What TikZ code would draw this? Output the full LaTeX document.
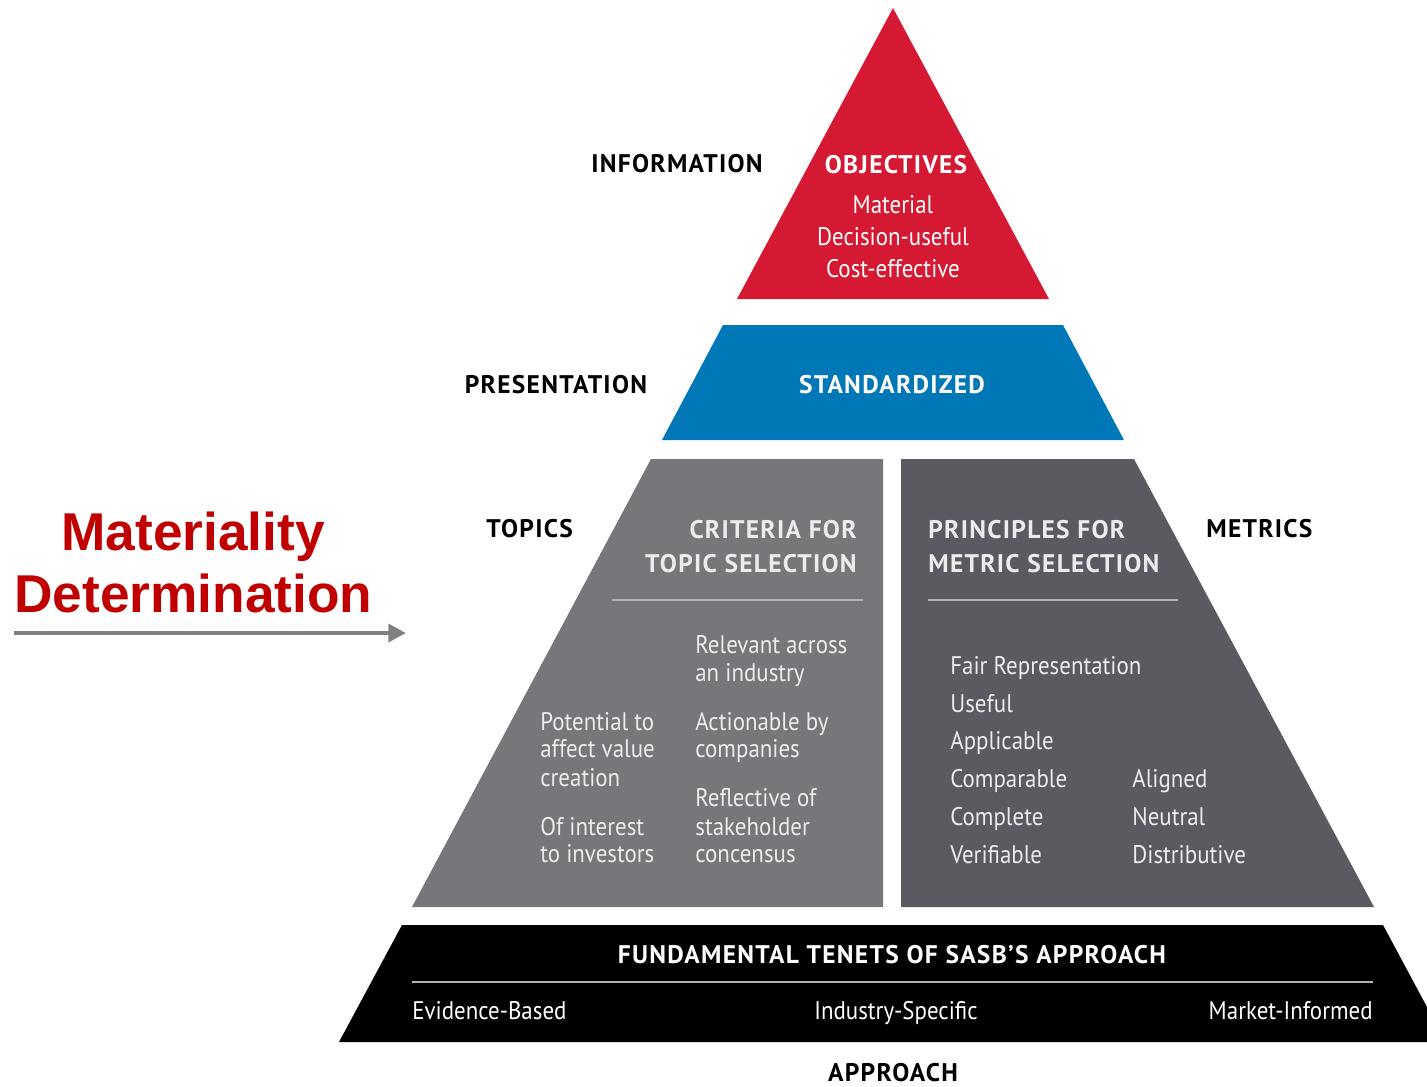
\documentclass[tikz,border=0pt]{standalone}
\usepackage{fontspec}
\setmainfont{PT Sans}
\newfontfamily\fr{PT Sans}[FakeStretch=0.9]
\newfontfamily\frh{PT Sans}[FakeStretch=1.0,LetterSpace=5]
\newfontfamily\arb{Liberation Sans}
\usetikzlibrary{arrows.meta}
\definecolor{sasbred}{RGB}{214,25,50}
\definecolor{sasbblue}{RGB}{0,119,182}
\definecolor{lgray}{RGB}{118,119,123}
\definecolor{dgray}{RGB}{90,91,96}
\definecolor{softwhite}{RGB}{236,236,236}
\definecolor{rulegray}{RGB}{178,178,180}
\definecolor{matred}{RGB}{192,0,0}
\definecolor{arrgray}{RGB}{128,128,128}
\tikzset{
  body/.style={font=\fr\fontsize{14.5}{16}\selectfont, inner sep=0pt, text=softwhite},
  bodyw/.style={body, text=white},
  head/.style={font=\frh\bfseries\fontsize{14.5}{16}\selectfont, inner sep=0pt, text=white},
  headg/.style={head, text=softwhite},
  side/.style={font=\frh\bfseries\fontsize{14.5}{16}\selectfont, inner sep=0pt, text=black},
  matlabel/.style={font=\arb\bfseries\fontsize{30.3}{32}\selectfont, inner sep=0pt, text=matred},
  divider/.style={draw=rulegray, line width=1.2pt},
  arrowline/.style={draw=arrgray, line width=2.8pt, -{Triangle[length=10pt,width=10pt]}},
}
\begin{document}
\begin{tikzpicture}[x=0.02cm,y=-0.02cm]
\useasboundingbox (0,0) rectangle (1427,1086);
% shapes
\fill[sasbred] (893,8) -- (1049,299) -- (737,299) -- cycle;
\fill[sasbblue] (723,325) -- (1063,325) -- (1124,440) -- (662,440) -- cycle;
\fill[lgray] (651,459) -- (883,459) -- (883,907) -- (412,907) -- cycle;
\fill[dgray] (901,459) -- (1134,459) -- (1374,907) -- (901,907) -- cycle;
\fill[black] (402,925) -- (1383,925) -- (1427,1007) -- (1427,1042) -- (339,1042) -- cycle;

% top triangle
\node[head, anchor=base] (obj) at (896,173) {OBJECTIVES};
\node[bodyw, anchor=base] (mat) at (893,213) {Material};
\node[bodyw, anchor=base] (dec) at (893,245) {Decision-useful};
\node[bodyw, anchor=base] (cost) at (893,277) {Cost-effective};
\node[side, anchor=base] (info) at (677,172) {INFORMATION};

% presentation
\node[head, anchor=base] (std) at (892,393) {STANDARDIZED};
\node[side, anchor=base] (pres) at (556,393) {PRESENTATION};

% topics
\node[side, anchor=base west] (topics) at (486,537) {TOPICS};
\node[headg, anchor=base east] (crit1) at (857,538) {CRITERIA FOR};
\node[headg, anchor=base east] (crit2) at (857,572) {TOPIC SELECTION};
\coordinate (tdl) at (612,600);
\coordinate (tdr) at (863,600);
\draw[divider] (tdl) -- (tdr);
\foreach \n/\t/\y in {a/Relevant across/653, b/an industry/681, c/Actionable by/730, d/companies/757, e/Reflective of/806, f/stakeholder/835, g/concensus/862}
  \node[body, anchor=base west] (tr\n) at (695,\y) {\t};
\foreach \n/\t/\y in {a/Potential to/730, b/affect value/757, c/creation/786, d/Of interest/835, e/to investors/862}
  \node[body, anchor=base west] (tl\n) at (540,\y) {\t};

% metrics
\node[side, anchor=base west] (metrics) at (1206,537) {METRICS};
\node[headg, anchor=base west] (prin1) at (928,538) {PRINCIPLES FOR};
\node[headg, anchor=base west] (prin2) at (928,572) {METRIC SELECTION};
\coordinate (mdl) at (928,600);
\coordinate (mdr) at (1178,600);
\draw[divider] (mdl) -- (mdr);
\foreach \n/\t/\y in {a/Fair Representation/674, b/Useful/712, c/Applicable/749, d/Comparable/787, e/Complete/825, f/Verifiable/863}
  \node[body, anchor=base west] (ml\n) at (950,\y) {\t};
\foreach \n/\t/\y in {a/Aligned/787, b/Neutral/825, c/Distributive/863}
  \node[body, anchor=base west] (mr\n) at (1132,\y) {\t};

% approach
\node[head, anchor=base] (fund) at (892,963) {FUNDAMENTAL TENETS OF SASB’S APPROACH};
\coordinate (adl) at (412,982);
\coordinate (adr) at (1373,982);
\draw[divider] (adl) -- (adr);
\node[bodyw, anchor=base west] (evid) at (412,1019) {Evidence-Based};
\node[bodyw, anchor=base] (indus) at (896,1019) {Industry-Specific};
\node[bodyw, anchor=base east] (mkt) at (1373,1019) {Market-Informed};
\node[side, anchor=base] (appr) at (893,1081) {APPROACH};

% materiality
\node[matlabel, anchor=base] (mat1) at (193,550) {Materiality};
\node[matlabel, anchor=base west] (mat2) at (14,612) {Determination};
\coordinate (arrs) at (14,633);
\coordinate (arre) at (406,633);
\draw[arrowline] (arrs) -- (arre);
\end{tikzpicture}
\end{document}
